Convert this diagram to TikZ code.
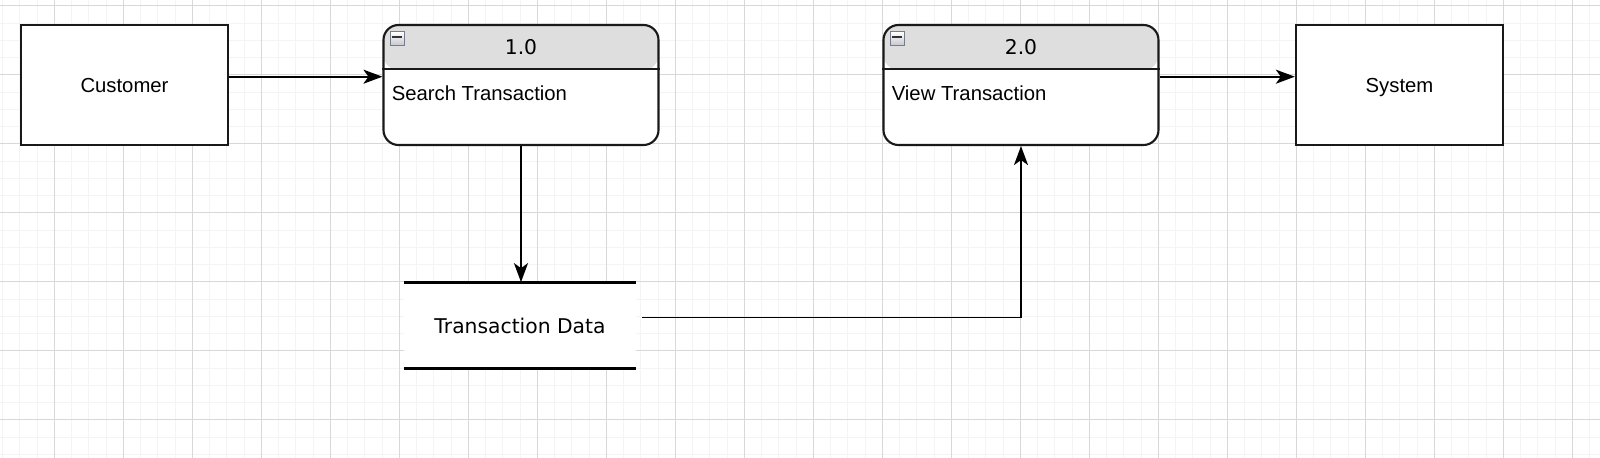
\documentclass[tikz,border=0pt]{standalone}
\usepackage{fontspec}
\setmainfont{Liberation Sans}
\newfontfamily\dejavu{DejaVu Sans}
\usepackage{tikz}
\usetikzlibrary{arrows.meta}
\usetikzlibrary{calc}
\definecolor{gridminor}{RGB}{244,244,244}
\definecolor{gridmajor}{RGB}{216,216,216}
\definecolor{hdrgray}{RGB}{222,222,222}
\definecolor{iconedge}{RGB}{118,126,140}
\newcommand*{\wMax}{32}
\newcommand*{\hMax}{9.16}
\newcommand*{\hdrH}{0.9}

\begin{document}
\begin{tikzpicture}[ent/.style={rectangle,draw=black!90,line width=1.3pt,fill=white,minimum width=4.14cm,minimum height=2.4cm,inner sep=0pt,text depth=0pt,font=\fontsize{11.55}{14}\selectfont},
	proc/.style={rectangle,rounded corners=0.3cm,draw=black!90,line width=1.2pt,fill=white,minimum width=5.5cm,minimum height=2.4cm,
		path picture={\fill[hdrgray] (path picture bounding box.north west) rectangle ([yshift=-\hdrH cm]path picture bounding box.north east);}},
	num/.style={inner sep=0pt,font=\dejavu\fontsize{11.55}{14}\selectfont},
	pname/.style={inner sep=0pt,anchor=west,font=\fontsize{11.55}{14}\selectfont},
	icon/.style={rectangle,draw=iconedge,line width=0.5pt,top color=white,bottom color=iconedge!45,minimum size=0.28cm,inner sep=0pt},
	store/.style={rectangle,fill=white,minimum width=4.64cm,minimum height=1.72cm,inner sep=0pt,font=\dejavu\fontsize{11.55}{14}\selectfont},
	dsline/.style={draw=black,line width=1.8pt},
	flow/.style={draw=black,line width=1.1pt,-{Stealth[length=0.38cm,width=0.28cm,inset=0.1cm]}}]
	\useasboundingbox (0,0) rectangle (\wMax,-\hMax);
	\fill[white] (0,0) rectangle (\wMax,-\hMax);
	% grid
	\foreach \i in {0,...,92} \draw[gridminor,line width=0.5pt] ({0.051+0.345*\i},0) -- ({0.051+0.345*\i},-\hMax);
	\foreach \j in {0,...,26} \draw[gridminor,line width=0.5pt] (0,{-0.114-0.345*\j}) -- (\wMax,{-0.114-0.345*\j});
	\foreach \i in {0,...,22} \draw[gridmajor,line width=0.6pt] ({1.086+1.38*\i},0) -- ({1.086+1.38*\i},-\hMax);
	\foreach \j in {0,...,6} \draw[gridmajor,line width=0.6pt] (0,{-0.114-1.38*\j}) -- (\wMax,{-0.114-1.38*\j});

	\node[ent] (cust) at (2.49,-1.70) {Customer};
	\node[ent] (sys) at (27.99,-1.70) {System};
	\node[proc] (p1) at (10.42,-1.70) {};
	\node[proc] (p2) at (20.42,-1.70) {};
	\foreach \p/\n/\t in {p1/1.0/Search Transaction,p2/2.0/View Transaction}{
		\draw[draw=black!90,line width=1.2pt] ([yshift=-\hdrH cm]\p.north west) -- ([yshift=-\hdrH cm]\p.north east);
		\node[num] (\p-num) at ([yshift=-0.47cm]\p.north) {\n};
		\node[pname] (\p-name) at ([shift={(0.18,-1.38)}]\p.north west) {\t};
		\node[icon] (\p-icon) at ([shift={(0.29,-0.30)}]\p.north west) {};
		\draw[black!80,line width=1.1pt] ([shift={(-0.1,0.03)}]\p-icon.center) -- ([shift={(0.1,0.03)}]\p-icon.center);
	}
	\node[store] (ds) at (10.40,-6.51) {Transaction Data};
	\draw[dsline] (ds.north west) -- (ds.north east); \draw[dsline] (ds.south west) -- (ds.south east);

	\coordinate (row) at (0,-1.534);
	\draw[flow] (cust.east |- row) -- (p1.west |- row);
	\draw[flow] (p2.east |- row) -- (sys.west |- row);
	\draw[flow] (p1.south) -- (p1.south |- ds.north);
	\draw[flow] ([shift={(0.11,0.16)}]ds.east) -| (p2.south);
\end{tikzpicture}
\end{document}
